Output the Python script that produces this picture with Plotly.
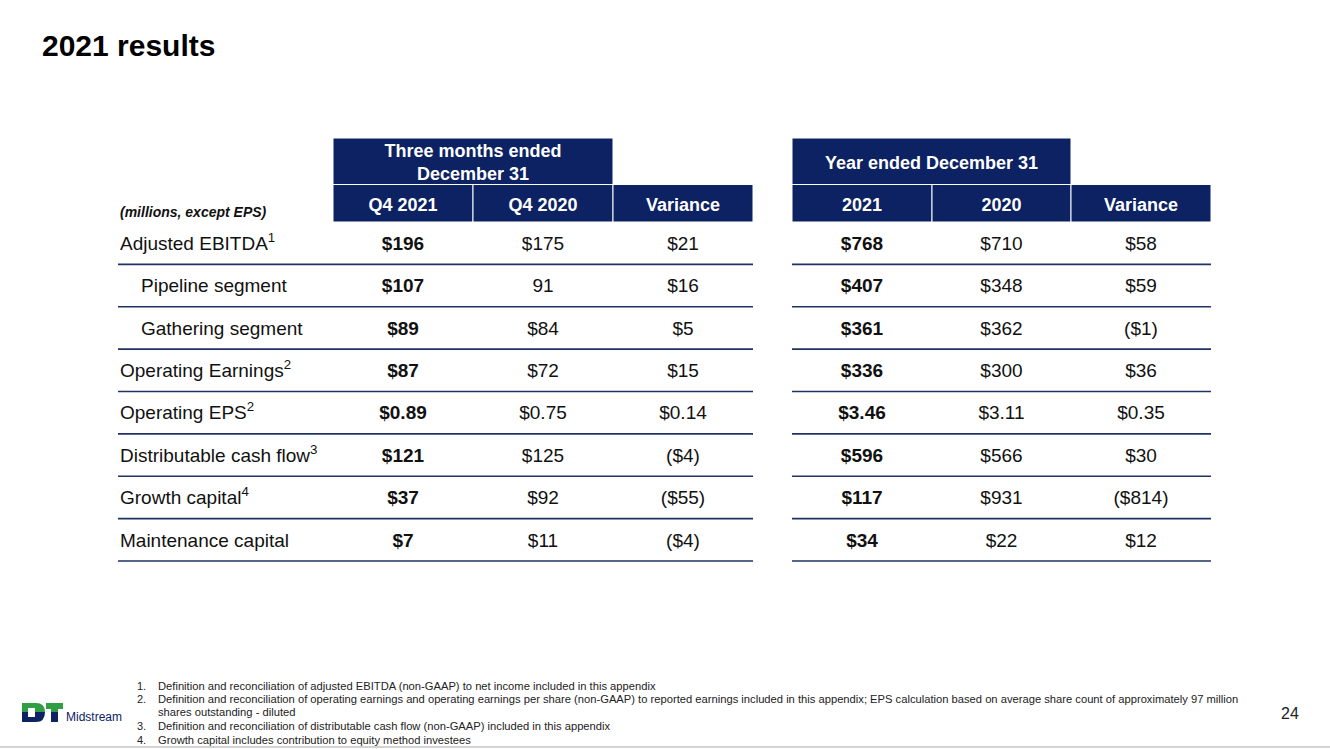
import plotly.graph_objects as go

NAVY = "#0c2262"
RULE = "#1f3263"
GREEN = "#2f9e44"
INK = "#111111"
FONT = "Liberation Sans, Arial, sans-serif"

# ---- data ----
row_labels = [
    "Adjusted EBITDA<sup>1</sup>",
    "Pipeline segment",
    "Gathering segment",
    "Operating Earnings<sup>2</sup>",
    "Operating EPS<sup>2</sup>",
    "Distributable cash flow<sup>3</sup>",
    "Growth capital<sup>4</sup>",
    "Maintenance capital",
]
label_indent = [0, 1, 1, 0, 0, 0, 0, 0]

q4_2021 = ["$196", "$107", "$89", "$87", "$0.89", "$121", "$37", "$7"]
q4_2020 = ["$175", "91", "$84", "$72", "$0.75", "$125", "$92", "$11"]
q4_var = ["$21", "$16", "$5", "$15", "$0.14", "($4)", "($55)", "($4)"]

fy_2021 = ["$768", "$407", "$361", "$336", "$3.46", "$596", "$117", "$34"]
fy_2020 = ["$710", "$348", "$362", "$300", "$3.11", "$566", "$931", "$22"]
fy_var = ["$58", "$59", "($1)", "$36", "$0.35", "$30", "($814)", "$12"]

quarter_title = "Three months ended<br>December 31"
year_title = "Year ended December 31"
quarter_headers = ["Q4 2021", "Q4 2020", "Variance"]
year_headers = ["2021", "2020", "Variance"]
units_note = "(millions, except EPS)"

footnote_nums = ["1.", "2.", "", "3.", "4."]
footnote_text = [
    "Definition and reconciliation of adjusted EBITDA (non-GAAP) to net income included in this appendix",
    "Definition and reconciliation of operating earnings and operating earnings per share (non-GAAP) to reported earnings included in this appendix; EPS calculation based on average share count of approximately 97 million",
    "shares outstanding - diluted",
    "Definition and reconciliation of distributable cash flow (non-GAAP) included in this appendix",
    "Growth capital includes contribution to equity method investees",
]

# ---- layout constants (pixels) ----
W, H = 1330, 749
LABEL_X = 120
INDENT = 21
ROW_TOP = 222
ROW_H = 42.375
HEAD_TOP = 138
HEAD_SPLIT = 184.5
TEXT_DY = 2  # nudge text down to sit like the slide
tables = [
    # edges of value columns, left end of row rules, group title, col headers, columns
    dict(edges=[333, 473, 613, 753], rule_x0=118, title=quarter_title,
         heads=quarter_headers, cols=[q4_2021, q4_2020, q4_var]),
    dict(edges=[792, 932, 1071, 1211], rule_x0=792, title=year_title,
         heads=year_headers, cols=[fy_2021, fy_2020, fy_var]),
]

n = len(row_labels)
row_y = [ROW_TOP + (i + 0.5) * ROW_H + TEXT_DY for i in range(n)]

fig = go.Figure()
shapes = []

for t in tables:
    e = t["edges"]
    # group header spanning the first two columns
    shapes.append(dict(type="rect", xref="x", yref="y", x0=e[0], x1=e[2],
                       y0=HEAD_TOP, y1=HEAD_SPLIT, fillcolor=NAVY,
                       line=dict(color="white", width=1), layer="below"))
    for j in range(3):
        shapes.append(dict(type="rect", xref="x", yref="y", x0=e[j], x1=e[j + 1],
                           y0=HEAD_SPLIT, y1=ROW_TOP, fillcolor=NAVY,
                           line=dict(color="white", width=1), layer="below"))
    for i in range(n):
        yy = ROW_TOP + (i + 1) * ROW_H
        shapes.append(dict(type="line", xref="x", yref="y", x0=t["rule_x0"], x1=e[3],
                           y0=yy, y1=yy, line=dict(color=RULE, width=1.6)))

    centers = [(e[j] + e[j + 1]) / 2 for j in range(3)]
    fig.add_trace(go.Scatter(
        x=[(e[0] + e[2]) / 2], y=[(HEAD_TOP + HEAD_SPLIT) / 2 + 1 + TEXT_DY],
        text=["<b>" + t["title"] + "</b>"], mode="text",
        textfont=dict(family=FONT, size=18, color="white"), hoverinfo="skip"))
    fig.add_trace(go.Scatter(
        x=centers, y=[(HEAD_SPLIT + ROW_TOP) / 2 + 1 + TEXT_DY] * 3,
        text=["<b>" + h + "</b>" for h in t["heads"]], mode="text",
        textfont=dict(family=FONT, size=18, color="white"), hoverinfo="skip"))
    for j, col in enumerate(t["cols"]):
        txt = ["<b>" + v + "</b>" if j == 0 else v for v in col]
        fig.add_trace(go.Scatter(
            x=[centers[j]] * n, y=row_y, text=txt, mode="text",
            textfont=dict(family=FONT, size=19, color=INK), hoverinfo="skip"))

fig.add_trace(go.Scatter(
    x=[LABEL_X + INDENT * k for k in label_indent], y=row_y, text=row_labels,
    mode="text", textposition="middle right",
    textfont=dict(family=FONT, size=19, color=INK), hoverinfo="skip"))

fig.add_trace(go.Scatter(
    x=[LABEL_X], y=[213], text=["<b><i>" + units_note + "</i></b>"],
    mode="text", textposition="middle right",
    textfont=dict(family=FONT, size=14, color=INK), hoverinfo="skip"))

annotations = [
    dict(x=40, y=45, xref="x", yref="y", text="<b>2021 results</b>", showarrow=False,
         xanchor="left", yanchor="middle", font=dict(family=FONT, size=30, color="black")),
    dict(x=1290, y=713, xref="x", yref="y", text="24", showarrow=False,
         xanchor="center", yanchor="middle", font=dict(family=FONT, size=16, color="#222")),
    dict(x=64, y=717, xref="x", yref="y", text="Midstream", showarrow=False,
         xanchor="left", yanchor="middle", font=dict(family=FONT, size=12, color=NAVY)),
]
foot_y = [686, 699, 712, 726, 740]
for num, txt, yy in zip(footnote_nums, footnote_text, foot_y):
    if num:
        annotations.append(dict(x=135, y=yy, xref="x", yref="y", text=num, showarrow=False,
                                xanchor="left", yanchor="middle",
                                font=dict(family=FONT, size=11, color="#222")))
    annotations.append(dict(x=156, y=yy, xref="x", yref="y", text=txt, showarrow=False,
                            xanchor="left", yanchor="middle",
                            font=dict(family=FONT, size=11.2, color="#222")))

# logo marks
shapes += [
    dict(type="path", xref="x", yref="y", path="M22,703 H36 Q45,703 45,712 H22 Z",
         fillcolor=GREEN, line=dict(width=0)),
    dict(type="path", xref="x", yref="y", path="M22,712 H45 Q45,722 36,722 H22 Z",
         fillcolor=NAVY, line=dict(width=0)),
    dict(type="rect", xref="x", yref="y", x0=28, x1=35, y0=708, y1=717,
         fillcolor="white", line=dict(width=0)),
    dict(type="rect", xref="x", yref="y", x0=46, x1=63, y0=703, y1=709,
         fillcolor=GREEN, line=dict(width=0)),
    dict(type="rect", xref="x", yref="y", x0=51, x1=58, y0=709, y1=712,
         fillcolor=GREEN, line=dict(width=0)),
    dict(type="rect", xref="x", yref="y", x0=51, x1=58, y0=712, y1=722,
         fillcolor=NAVY, line=dict(width=0)),
    dict(type="line", xref="x", yref="y", x0=0, x1=W, y0=747, y1=747,
         line=dict(color="#c4c4c4", width=1.5)),
]

fig.update_layout(
    width=W, height=H, margin=dict(l=0, r=0, t=0, b=0),
    paper_bgcolor="white", plot_bgcolor="white", showlegend=False,
    xaxis=dict(range=[0, W], visible=False, fixedrange=True),
    yaxis=dict(range=[H, 0], visible=False, fixedrange=True),
    shapes=shapes, annotations=annotations,
)

fig.write_html("out.html", config={"displayModeBar": False},
               post_script="document.body.style.margin='0';document.body.style.overflow='hidden';")
